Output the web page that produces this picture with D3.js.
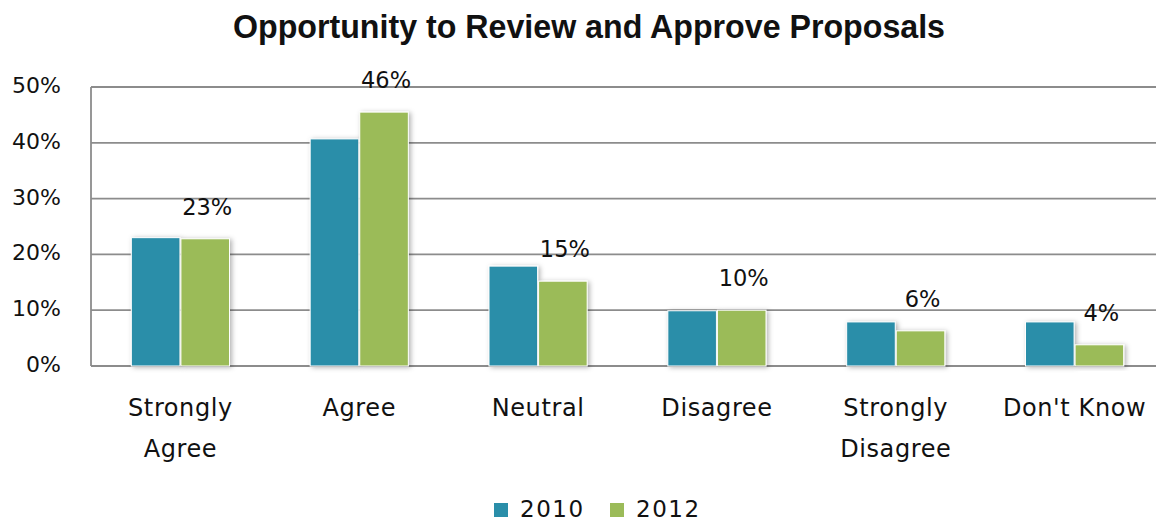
<!DOCTYPE html>
<html>
<head>
<meta charset="utf-8">
<script src="https://cdn.jsdelivr.net/npm/d3@7"></script>
<style>
  body { margin: 0; background: #fff; }
  text { font-family: "DejaVu Sans", Verdana, sans-serif; fill: #111; }
  .title { font-family: "Liberation Sans", Arial, sans-serif; font-weight: bold; }
</style>
</head>
<body>
<div id="chart"></div>
<script>
// chart data
const categories = [["Strongly", "Agree"], ["Agree"], ["Neutral"], ["Disagree"], ["Strongly", "Disagree"], ["Don't Know"]];
const seriesNames = ["2010", "2012"];
const values2010 = [23, 40.7, 17.9, 9.9, 7.9, 7.9];
const values2012 = [22.8, 45.5, 15.2, 10, 6.3, 3.8];
const yTicks = [0, 10, 20, 30, 40, 50];
const colors = ["#2a8ea9", "#9bbb59"];

const svgWidth = 1156, svgHeight = 523;
const svg = d3.select("#chart").append("svg")
  .attr("width", svgWidth)
  .attr("height", svgHeight);

// soft shadow behind the bars
const defs = svg.append("defs");
const f = defs.append("filter").attr("id", "shadow")
  .attr("x", "-20%").attr("y", "-20%").attr("width", "150%").attr("height", "140%");
f.append("feDropShadow").attr("dx", 2).attr("dy", 1).attr("stdDeviation", 2.5)
  .attr("flood-color", "#000").attr("flood-opacity", 0.3);

const margin = {left: 91, right: -8, top: 87, bottom: 157};
const plotBottom = svgHeight - margin.bottom;

const keys = categories.map(c => c.join(" "));
const x = d3.scaleBand().domain(keys)
  .range([margin.left, svgWidth - margin.right])
  .paddingInner(0.44).paddingOuter(0.22);
const x1 = d3.scaleBand().domain(seriesNames).range([0, x.bandwidth()]).padding(0.02);
const y = d3.scaleLinear().domain([0, 50]).range([plotBottom, margin.top]);

// title (condensed look: squeeze a bold face into the measured width)
svg.append("text").attr("class", "title")
  .attr("x", 233).attr("y", 38)
  .attr("textLength", 712)
  .attr("lengthAdjust", "spacingAndGlyphs")
  .style("font-size", "34px")
  .text("Opportunity to Review and Approve Proposals");

// gridlines
svg.append("g").selectAll("line")
  .data(yTicks)
  .enter().append("line")
    .attr("x1", margin.left).attr("x2", svgWidth)
    .attr("y1", d => y(d)).attr("y2", d => y(d))
    .attr("stroke", "#8c8c8c").attr("stroke-width", 1.8);

// y axis line + labels
svg.append("line")
  .attr("x1", margin.left).attr("x2", margin.left)
  .attr("y1", y(50)).attr("y2", y(0))
  .attr("stroke", "#8c8c8c").attr("stroke-width", 1.8);

svg.append("g").selectAll("text")
  .data(yTicks)
  .enter().append("text")
    .attr("x", 61)
    .attr("y", d => y(d) + 6)
    .attr("text-anchor", "end")
    .style("font-size", "22px")
    .text(d => d + "%");

// bars
const rows = keys.map((k, i) => ({key: k, vals: [values2010[i], values2012[i]]}));
const groups = svg.append("g").selectAll("g")
  .data(rows)
  .enter().append("g")
    .attr("transform", d => "translate(" + x(d.key) + ",0)");

groups.selectAll("rect")
  .data(d => d.vals.map((v, j) => ({name: seriesNames[j], v: v, j: j})))
  .enter().append("rect")
    .attr("x", d => x1(d.name))
    .attr("y", d => y(d.v))
    .attr("width", x1.bandwidth())
    .attr("height", d => y(0) - y(d.v))
    .attr("fill", d => colors[d.j])
    .attr("stroke", "#fff").attr("stroke-width", 1)
    .attr("filter", "url(#shadow)");

// value labels on the 2012 series
groups.append("text")
  .attr("x", x1("2012") + x1.bandwidth() / 2 + 2)
  .attr("y", d => y(d.vals[1]) - 24)
  .attr("text-anchor", "middle")
  .style("font-size", "22.5px")
  .text(d => Math.round(d.vals[1]) + "%");

// category labels
groups.append("text")
  .attr("x", x.bandwidth() / 2)
  .attr("text-anchor", "middle")
  .style("font-size", "24px")
  .style("letter-spacing", "0.6px")
  .each(function(d, i) {
    const t = d3.select(this);
    categories[i].forEach((line, li) => {
      t.append("tspan").attr("x", x.bandwidth() / 2)
        .attr("y", 416 + li * 41).text(line);
    });
  });

// legend
const legend = svg.append("g").selectAll("g")
  .data(seriesNames)
  .enter().append("g")
    .attr("transform", (d, i) => "translate(" + (494 + i * 116) + ",503)");
legend.append("rect").attr("width", 14).attr("height", 14)
  .attr("fill", (d, i) => colors[i]);
legend.append("text").attr("x", 26).attr("y", 14)
  .style("font-size", "23px")
  .style("letter-spacing", "1.5px")
  .text(d => d);
</script>
</body>
</html>
